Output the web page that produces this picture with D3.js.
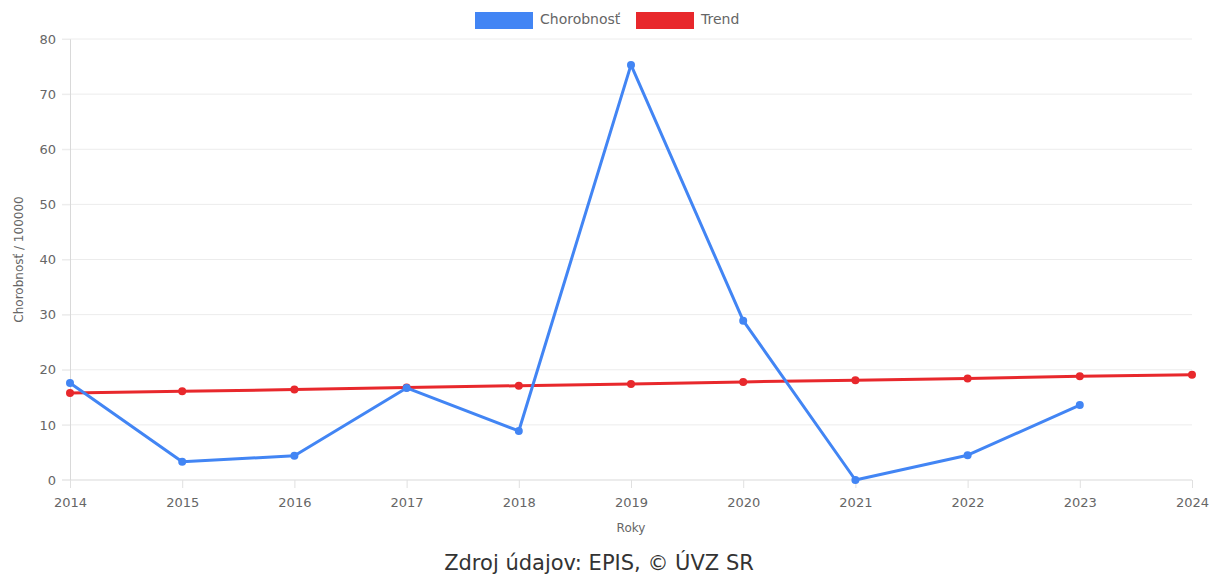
<!DOCTYPE html>
<html>
<head>
<meta charset="utf-8">
<script src="https://cdn.jsdelivr.net/npm/d3@7"></script>
<style>
  body { margin: 0; background: #fff; font-family: "DejaVu Sans", sans-serif; }
</style>
</head>
<body>
<div id="chart"></div>
<script>
let years = [2014, 2015, 2016, 2017, 2018, 2019, 2020, 2021, 2022, 2023, 2024];
let incidence = [17.6, 3.3, 4.4, 16.7, 8.9, 75.3, 28.9, 0, 4.5, 13.6];
let trend = [15.8, 16.1, 16.4, 16.8, 17.1, 17.4, 17.8, 18.1, 18.4, 18.8, 19.1];
let yTicks = [0, 10, 20, 30, 40, 50, 60, 70, 80];

let series = [
    {name: 'Chorobnosť', color: '#4285f4', values: incidence},
    {name: 'Trend', color: '#e8282c', values: trend}
];

let width = 1217, height = 576;
let margin = {top: 39, right: 25, bottom: 96, left: 70};
let font = '"DejaVu Sans", sans-serif';

let svg = d3.select('#chart').append('svg')
    .attr('width', width)
    .attr('height', height)
    .style('font-family', font);

let x = d3.scaleLinear()
    .domain([years[0], years[years.length - 1]])
    .range([margin.left, width - margin.right]);
let y = d3.scaleLinear()
    .domain([0, 80])
    .range([height - margin.bottom, margin.top]);

// horizontal grid
svg.append('g')
    .selectAll('line')
    .data(yTicks)
    .enter().append('line')
    .attr('x1', margin.left - 8)
    .attr('x2', width - margin.right)
    .attr('y1', d => y(d))
    .attr('y2', d => y(d))
    .attr('stroke', d => d === 0 ? '#d9d9d9' : '#ececec')
    .attr('stroke-width', 1);

// y axis
let yAxis = svg.append('g')
    .attr('transform', `translate(${margin.left},0)`)
    .call(d3.axisLeft(y).tickValues(yTicks).tickSize(8).tickPadding(6));
yAxis.select('.domain').attr('stroke', '#d9d9d9');
yAxis.selectAll('.tick line').attr('stroke', '#ececec');
yAxis.selectAll('text').attr('fill', '#666').style('font-size', '13px').style('font-family', font);

// x axis
let xAxis = svg.append('g')
    .attr('transform', `translate(0,${height - margin.bottom})`)
    .call(d3.axisBottom(x).tickValues(years).tickFormat(d3.format('d')).tickSize(8).tickPadding(10));
xAxis.select('.domain').remove();
xAxis.selectAll('.tick line').attr('stroke', '#e0e0e0');
xAxis.selectAll('text').attr('fill', '#666').style('font-size', '13px').style('font-family', font);

// axis titles
svg.append('text')
    .attr('x', (margin.left + width - margin.right) / 2)
    .attr('y', 532)
    .attr('text-anchor', 'middle')
    .attr('fill', '#666')
    .style('font-size', '12px')
    .text('Roky');

svg.append('text')
    .attr('transform', `translate(23,${(margin.top + height - margin.bottom) / 2}) rotate(-90)`)
    .attr('text-anchor', 'middle')
    .attr('fill', '#666')
    .style('font-size', '12px')
    .text('Chorobnosť / 100000');

// lines + points
let line = d3.line()
    .x((d, i) => x(years[i]))
    .y(d => y(d));

series.slice().reverse().forEach(s => {
    svg.append('path')
        .datum(s.values)
        .attr('fill', 'none')
        .attr('stroke', s.color)
        .attr('stroke-width', 3)
        .attr('stroke-linejoin', 'round')
        .attr('d', line);
    svg.append('g')
        .selectAll('circle')
        .data(s.values)
        .enter().append('circle')
        .attr('cx', (d, i) => x(years[i]))
        .attr('cy', d => y(d))
        .attr('r', 4)
        .attr('fill', s.color);
});

// legend
let legendItems = [{x: 475, textX: 540}, {x: 636, textX: 701}];
let legend = svg.append('g');
series.forEach((s, i) => {
    legend.append('rect')
        .attr('x', legendItems[i].x)
        .attr('y', 12)
        .attr('width', 58)
        .attr('height', 17)
        .attr('fill', s.color);
    legend.append('text')
        .attr('x', legendItems[i].textX)
        .attr('y', 24)
        .attr('fill', '#666')
        .style('font-size', '14px')
        .text(s.name);
});

// source
svg.append('text')
    .attr('x', 599)
    .attr('y', 570)
    .attr('text-anchor', 'middle')
    .attr('fill', '#333')
    .style('font-size', '21px')
    .text('Zdroj údajov: EPIS, © ÚVZ SR');
</script>
</body>
</html>
